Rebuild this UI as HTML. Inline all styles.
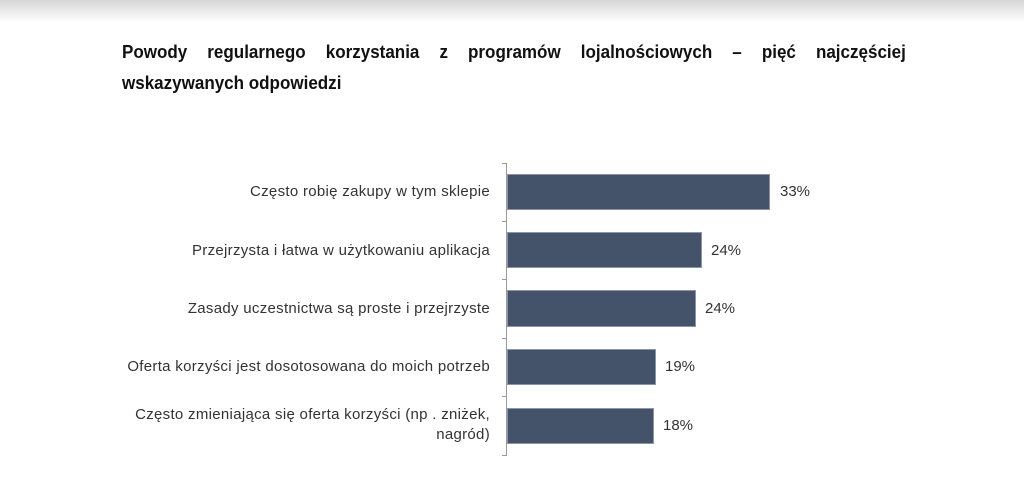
<!DOCTYPE html>
<html><head><meta charset="utf-8"><style>
body{margin:0;width:1024px;height:496px;background:#fff;position:relative;overflow:hidden;font-family:"Liberation Sans",sans-serif}
.top{position:absolute;left:0;top:0;width:1024px;height:22px;background:linear-gradient(#d6d6d6,#fff)}
.title{position:absolute;left:122px;top:36px;width:852px;font-weight:bold;font-size:18.5px;line-height:31px;color:#111;text-align:justify;transform:scaleX(0.92);transform-origin:0 0}
.t1{text-align:justify;text-align-last:justify;display:block}
.bar{position:absolute;left:507px;background:#44536a;border:1px solid #8a95a5;box-sizing:border-box}
.lab{position:absolute;right:534px;font-size:15px;letter-spacing:0.3px;color:#333;text-align:right;line-height:20px}
.val{position:absolute;font-size:15px;color:#333}
.ax{position:absolute;left:506px;top:163px;width:1px;height:292px;background:#999}
.tk{position:absolute;left:502px;width:5px;height:1px;background:#999}
</style></head><body>
<div class="top"></div>
<div class="title"><span class="t1">Powody regularnego korzystania z programów lojalnościowych – pięć najczęściej</span>wskazywanych odpowiedzi</div>
<div class="ax"></div>
<div class="tk" style="top:163px"></div><div class="tk" style="top:221px"></div><div class="tk" style="top:279px"></div><div class="tk" style="top:338px"></div><div class="tk" style="top:396px"></div><div class="tk" style="top:455px"></div>
<div class="bar" style="top:174px;width:263px;height:36px"></div>
<div class="bar" style="top:232px;width:195px;height:36px"></div>
<div class="bar" style="top:290px;width:189px;height:37px"></div>
<div class="bar" style="top:349px;width:149px;height:36px"></div>
<div class="bar" style="top:408px;width:147px;height:36px"></div>
<div class="val" style="left:780px;top:183px">33%</div>
<div class="val" style="left:711px;top:242px">24%</div>
<div class="val" style="left:705px;top:300px">24%</div>
<div class="val" style="left:665px;top:358px">19%</div>
<div class="val" style="left:663px;top:417px">18%</div>
<div class="lab" style="top:182px">Często robię zakupy w tym sklepie</div>
<div class="lab" style="top:241px">Przejrzysta i łatwa w użytkowaniu aplikacja</div>
<div class="lab" style="top:299px">Zasady uczestnictwa są proste i przejrzyste</div>
<div class="lab" style="top:357px">Oferta korzyści jest dosotosowana do moich potrzeb</div>
<div class="lab" style="top:405px">Często zmieniająca się oferta korzyści (np . zniżek,<br>nagród)</div>
</body></html>
